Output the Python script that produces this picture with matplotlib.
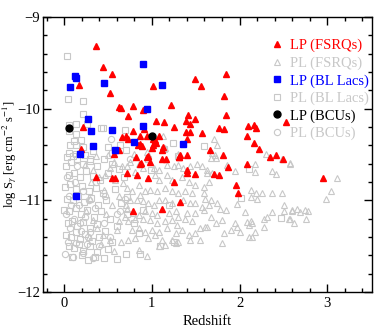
import matplotlib
matplotlib.use('Agg')
import matplotlib.pyplot as plt
from matplotlib.ticker import MultipleLocator

plt.rcParams['font.family'] = ['Liberation Serif', 'DejaVu Serif']
plt.rcParams['mathtext.fontset'] = 'stix'

RED = '#ff0000'
BLUE = '#0000ff'
GREY = '#c8c8c8'

# LP FSRQs (red filled triangles)
lp_fsrq_z = [0.36, 0.44, 0.55, 0.17, 0.52, 1.01, 1.49, 1.56, 1.85, 1.82, 1.85, 1.77, 1.82,
             2.10, 2.16, 2.19, 2.08, 2.16, 2.22, 2.53, 2.42, 1.66, 1.81, 1.49, 1.57, 2.35,
             2.50, 1.87, 2.08, 1.49, 1.71, 1.76, 1.96, 1.98, 2.95, 0.36, 0.55, 0.58, 0.72,
             0.83, 0.96, 0.87, 1.25, 1.40, 1.32, 1.12, 0.79, 0.82, 0.96, 0.98, 1.12, 1.16,
             1.31, 1.40, 0.79, 0.90, 1.22, 0.73, 1.41, 1.05, 1.14, 1.25, 1.39, 1.43, 1.39,
             1.44, 0.79, 0.91, 0.87, 0.94, 1.08, 0.73, 1.03, 1.05, 1.40, 0.87, 0.89, 1.00,
             1.12, 1.32, 0.63, 0.65, 0.22, 0.19, 0.66, 0.70, 0.84, 1.01, 1.01, 1.13, 0.88,
             0.95, 0.63, 0.57, 1.31, 1.40]
lp_fsrq_s = [-9.32, -9.55, -9.62, -9.74, -9.83, -9.75, -9.68, -9.75, -9.62, -9.86, -10.07,
             -10.21, -10.22, -10.19, -10.18, -10.21, -10.30, -10.37, -10.44, -10.15, -10.50,
             -10.45, -10.50, -10.11, -10.27, -10.53, -10.55, -10.64, -10.60, -10.71, -10.71,
             -10.72, -10.83, -10.92, -10.76, -10.74, -10.76, -10.76, -10.70, -10.72, -10.76,
             -10.60, -10.80, -10.70, -11.02, -11.09, -11.12, -10.53, -10.52, -10.58, -10.55,
             -10.55, -10.53, -10.50, -9.97, -10.01, -9.96, -10.08, -10.07, -10.13, -10.15,
             -10.20, -10.13, -10.17, -10.25, -10.25, -10.24, -10.22, -10.30, -10.30, -10.30,
             -10.33, -10.34, -10.37, -10.33, -10.38, -10.41, -10.43, -10.45, -10.50, -9.98,
             -9.99, -10.20, -10.44, -10.31, -10.30, -10.40, -10.33, -10.40, -10.42, -10.59,
             -10.53, -10.45, -10.49, -10.53, -10.67]

# PL FSRQs (grey open triangles)
pl_fsrq_z = [0.72, 0.75, 0.85, 0.81, 0.90, 1.02, 1.08, 1.17, 1.25, 1.30, 1.36, 1.44, 1.51,
             1.57, 1.63, 1.04, 1.08, 1.17, 1.23, 1.34, 1.42, 1.49, 1.59, 1.65, 0.72, 0.77,
             0.85, 0.87, 0.92, 0.98, 1.06, 1.15, 1.23, 1.30, 1.38, 1.46, 1.59, 1.61, 0.75,
             0.83, 0.90, 0.96, 1.02, 1.08, 1.15, 1.23, 1.36, 1.44, 1.49, 1.57, 1.65, 0.72,
             0.79, 0.85, 0.92, 1.00, 1.06, 1.19, 1.27, 1.30, 1.40, 1.49, 1.59, 0.73, 0.81,
             0.90, 0.98, 1.06, 1.15, 1.23, 1.29, 1.38, 1.46, 1.55, 1.61, 0.77, 0.85, 0.92,
             1.00, 1.08, 1.17, 1.27, 1.34, 1.42, 1.49, 1.55, 0.73, 0.81, 0.96, 1.04, 1.11,
             1.23, 1.30, 1.44, 0.85, 0.94, 1.08, 1.15, 1.27,
             1.67, 1.73, 1.86, 1.95, 2.18, 2.18, 2.37, 2.41, 1.63, 1.68, 2.13, 2.19, 2.25,
             2.37, 2.48, 2.20, 2.13, 2.51, 2.51, 2.60, 1.67, 1.74, 1.78, 1.84, 1.97, 2.06,
             2.31, 2.37, 2.28, 1.67, 1.80, 1.73, 1.63, 1.90, 1.97, 2.01, 1.95, 2.08, 2.13,
             2.11, 2.14, 2.18, 2.28, 1.82, 1.80, 2.11, 2.14, 2.56,
             2.57, 3.11, 3.04, 2.98, 2.60, 2.66, 2.69, 2.75, 2.78, 2.76, 2.62, 2.57,
             1.71, 1.74, 1.69, 1.72, 2.30, 2.57, 1.13, 1.15, 0.95, 0.80, 1.30, 2.48,
             0.24, 0.33, 0.52, 0.67, 0.45, 0.69, 0.60, 0.52, 0.65, 0.33, 0.40, 0.58, 0.62,
             0.55, 0.48, 0.38, 0.28, 0.57, 0.42, 0.66, 0.50, 0.36, 0.70, 0.29, 0.44, 0.63,
             0.25, 0.31, 0.57, 0.47]
pl_fsrq_s = [-10.63, -10.58, -10.60, -10.69, -10.65, -10.65, -10.67, -10.61, -10.63, -10.61,
             -10.65, -10.63, -10.60, -10.63, -10.67, -10.72, -10.78, -10.72, -10.78, -10.74,
             -10.80, -10.83, -10.85, -10.80, -10.87, -10.90, -10.83, -10.94, -10.90, -10.89,
             -10.90, -10.87, -10.90, -10.92, -10.90, -10.92, -10.92, -10.98, -11.00, -11.00,
             -11.01, -11.03, -11.05, -11.00, -11.00, -11.03, -11.00, -11.03, -11.03, -11.07,
             -11.05, -11.09, -11.14, -11.16, -11.12, -11.14, -11.16, -11.14, -11.12, -11.18,
             -11.14, -11.14, -11.10, -11.23, -11.20, -11.20, -11.21, -11.25, -11.23, -11.21,
             -11.27, -11.20, -11.23, -11.30, -11.29, -11.32, -11.30, -11.34, -11.32, -11.34,
             -11.30, -11.36, -11.32, -11.38, -11.36, -11.43, -11.43, -11.41, -11.41, -11.38,
             -11.43, -11.43, -11.45, -11.43, -11.54, -11.61, -11.50, -11.49, -11.47,
             -10.54, -10.54, -10.61, -10.68, -10.60, -10.69, -10.68, -10.71, -10.70, -10.70,
             -10.89, -10.92, -10.92, -10.92, -10.92, -10.99, -10.96, -11.05, -11.12, -11.12,
             -11.00, -11.03, -11.09, -11.11, -11.04, -11.13, -11.18, -11.13, -11.20, -11.18,
             -11.21, -11.25, -11.29, -11.32, -11.29, -11.34, -11.25, -11.24, -11.23, -11.27,
             -11.25, -11.34, -11.29, -11.36, -11.47, -11.40, -11.40, -11.20,
             -10.60, -10.76, -10.90, -10.99, -11.10, -11.09, -11.13, -11.10, -11.12, -11.20,
             -11.25, -11.20,
             -10.33, -10.40, -10.48, -10.50, -10.49, -10.59, -10.30, -10.43, -10.47, -10.49,
             -10.49, -10.55,
             -10.61, -10.67, -10.65, -10.81, -10.89, -11.18, -11.32, -11.43, -11.45, -11.21,
             -10.75, -10.78, -10.95, -11.05, -11.15, -11.30, -11.40, -11.55, -11.48, -10.62,
             -10.50, -10.52, -11.05, -10.98, -11.38, -11.22, -11.12, -10.80, -10.58, -10.72]

# LP BL Lacs (blue filled squares)
lp_bll_z = [0.90, 0.12, 0.14, 0.07, 0.45, 1.11, 0.94, 0.27, 0.31, 0.54, 0.90, 0.80, 0.33,
            0.18, 0.58, 1.36, 0.13]
lp_bll_s = [-9.51, -9.64, -9.67, -9.76, -9.72, -9.74, -10.00, -10.11, -10.24, -10.23, -10.19,
            -10.36, -10.41, -10.49, -10.45, -10.38, -10.95]

# PL BL Lacs (grey open squares)
pl_bll_z = [0.03, 0.04, 0.21, 0.22, 0.26, 0.14, 0.06, 0.06, 0.14, 0.19, 0.11, 0.07, 0.14,
            0.22, 0.06, 0.14, 0.44, 0.69, 0.64, 0.71, 0.42, 0.24, 0.33, 0.50, 0.03, 0.10,
            0.30, 0.55,
            0.02, 0.08, 0.15, 0.22, 0.30, 0.38, 0.45, 0.55, 0.62, 0.05, 0.11, 0.18, 0.25,
            0.33, 0.41, 0.50, 0.68, 0.01, 0.07, 0.14, 0.20, 0.28, 0.36, 0.44, 0.58, 0.03,
            0.10, 0.16, 0.23, 0.31, 0.39, 0.48, 0.65, 0.00, 0.06, 0.13, 0.19, 0.26, 0.34,
            0.42, 0.52, 0.72, 0.04, 0.09, 0.15, 0.21, 0.29, 0.37, 0.47, 0.60, 0.02, 0.08,
            0.13, 0.18, 0.24, 0.32, 0.40, 0.55, 0.05, 0.11, 0.17, 0.22, 0.30, 0.38, 0.50,
            0.70, 0.09, 0.20, 0.27, 0.35, 0.45, 0.60,
            1.24, 1.60, 0.96, 1.30, 0.99, 0.72, 0.85, 1.09, 0.87, 1.25, 2.11, 2.02, 2.47,
            1.14, 0.90, 1.20, 0.80]
pl_bll_s = [-9.43, -9.89, -9.92, -10.06, -10.17, -10.17, -10.18, -10.24, -10.28, -10.34,
            -10.35, -10.40, -10.40, -10.42, -10.48, -10.49, -10.21, -10.23, -10.40, -10.45,
            -10.21, -10.50, -10.46, -10.42, -10.53, -10.52, -10.55, -10.48,
            -10.62, -10.58, -10.55, -10.60, -10.57, -10.63, -10.55, -10.60, -10.66, -10.72,
            -10.70, -10.75, -10.68, -10.73, -10.78, -10.70, -10.75, -10.85, -10.82, -10.88,
            -10.84, -10.90, -10.86, -10.92, -10.88, -10.98, -11.00, -10.95, -11.02, -10.97,
            -11.05, -11.00, -11.03, -11.10, -11.12, -11.08, -11.15, -11.10, -11.18, -11.12,
            -11.20, -11.15, -11.25, -11.22, -11.28, -11.24, -11.30, -11.26, -11.33, -11.28,
            -11.38, -11.40, -11.35, -11.42, -11.37, -11.44, -11.40, -11.45, -11.50, -11.52,
            -11.48, -11.55, -11.50, -11.56, -11.53, -11.58, -11.62, -11.60, -11.65, -11.62,
            -11.63, -11.64,
            -10.37, -10.41, -10.55, -10.52, -10.67, -10.96, -11.36, -11.50, -11.58, -11.45,
            -10.66, -10.97, -11.19, -10.44, -11.10, -11.05, -11.25]

# LP BCUs (black filled circles)
lp_bcu_z = [0.06, 1.00]
lp_bcu_s = [-10.21, -10.30]

# PL BCUs (grey open circles)
pl_bcu_z = [0.03, 0.12, 0.22, 0.06, 0.17, 0.28, 0.02, 0.11, 0.24, 0.35, 0.07, 0.19, 0.30,
            0.45, 0.04, 0.14, 0.26, 0.40, 0.01, 0.10, 0.21, 0.33, 0.52, 0.60, 0.47, 0.53,
            0.75, 0.15, 0.36, 0.64, 0.69, 0.08, 0.18, 0.27]
pl_bcu_s = [-10.75, -10.80, -10.90, -10.95, -11.05, -11.00, -11.15, -11.20, -11.18, -11.08,
            -11.30, -11.33, -11.35, -11.25, -11.45, -11.46, -11.48, -11.50, -11.58, -11.62,
            -11.57, -11.63, -11.40, -11.15, -10.95, -10.33, -10.55, -10.62, -10.80, -11.12,
            -10.99, -11.05, -11.25, -11.40]

fig = plt.figure(figsize=(3.92, 3.27), dpi=100)
ax = fig.add_axes([0.110, 0.107, 0.839, 0.841])

ax.plot(pl_fsrq_z, pl_fsrq_s, '^', ms=4.5, mfc='none', mec=GREY, mew=0.8, ls='none')
ax.plot(pl_bll_z, pl_bll_s, 's', ms=4, mfc='none', mec=GREY, mew=0.8, ls='none')
ax.plot(pl_bcu_z, pl_bcu_s, 'o', ms=4.5, mfc='none', mec=GREY, mew=0.8, ls='none')
h1, = ax.plot(lp_fsrq_z, lp_fsrq_s, '^', ms=4.5, color=RED, ls='none')
h3, = ax.plot(lp_bll_z, lp_bll_s, 's', ms=3.8, color=BLUE, ls='none')
h5, = ax.plot(lp_bcu_z, lp_bcu_s, 'o', ms=5, color='black', ls='none')

# legend proxies for open symbols
h2, = ax.plot([], [], '^', ms=4.5, mfc='none', mec=GREY, mew=0.8, ls='none')
h4, = ax.plot([], [], 's', ms=4, mfc='none', mec=GREY, mew=0.8, ls='none')
h6, = ax.plot([], [], 'o', ms=4.5, mfc='none', mec=GREY, mew=0.8, ls='none')

labels = ['LP (FSRQs)', 'PL (FSRQs)', 'LP (BL Lacs)', 'PL (BL Lacs)', 'LP (BCUs)', 'PL (BCUs)']
leg = ax.legend([h1, h2, h3, h4, h5, h6], labels, loc='upper left',
                bbox_to_anchor=(0.693, 0.92), frameon=False, fontsize=10.5,
                labelcolor=[RED, GREY, BLUE, GREY, 'black', GREY],
                handlelength=0.8, handletextpad=0.5, labelspacing=0.28,
                borderpad=0, borderaxespad=0)
leg.set_clip_on(False)

ax.set_xlim(-0.24, 3.51)
ax.set_ylim(-12, -9)
ax.xaxis.set_major_locator(MultipleLocator(1))
ax.xaxis.set_minor_locator(MultipleLocator(0.2))
ax.yaxis.set_major_locator(MultipleLocator(1))
ax.yaxis.set_minor_locator(MultipleLocator(0.2))
ax.tick_params(which='both', direction='in', top=True, right=True, labelsize=10.5, width=1)
ax.tick_params(which='major', length=6)
ax.tick_params(which='minor', length=3)
ax.tick_params(axis='y', pad=2)
for sp in ax.spines.values():
    sp.set_linewidth(1)

ax.set_xlabel('Redshift', fontsize=10.5)
ax.set_ylabel(r'log S$_\gamma$ [erg cm$^{-2}$ s$^{-1}$]', fontsize=9)
ax.yaxis.set_label_coords(-0.074, 0.5)

fig.savefig('out.png', dpi=100)
